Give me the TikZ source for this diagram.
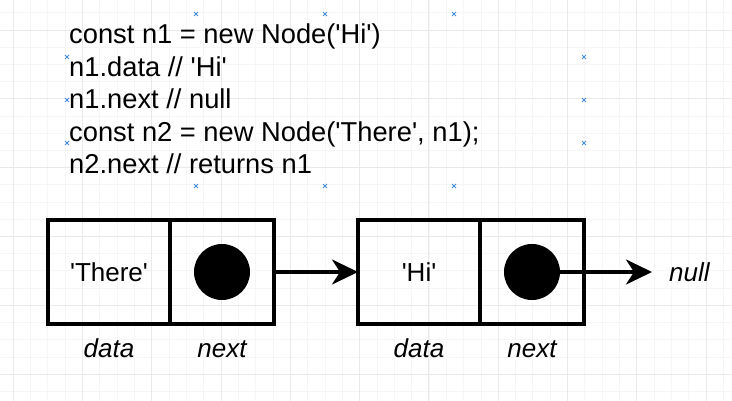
\documentclass[tikz,border=0pt]{standalone}
\usepackage{fontspec}
\newfontfamily\hv{Liberation Sans}
\usetikzlibrary{positioning,arrows.meta}

\definecolor{gridmajor}{RGB}{233,233,233}
\definecolor{gridminor}{RGB}{246,246,246}
\definecolor{handleblue}{RGB}{70,140,215}

\tikzset{
  cell/.style={draw, line width=3.2, minimum height=104pt, outer sep=0pt, inner sep=0pt,
    font=\hv\fontsize{26}{30}\selectfont},
  datacell/.style={cell, minimum width=122pt},
  nextcell/.style={cell, minimum width=104pt},
  dot/.style={circle, fill=black, minimum size=56pt, inner sep=0pt},
  lbl/.style={inner sep=0pt, font=\hv\itshape\fontsize{26}{30}\selectfont},
  codeline/.style={anchor=base west, inner sep=0pt, font=\hv\fontsize{27.3}{32}\selectfont},
  ptr/.style={line width=3.5, -{Stealth[length=26pt,width=25pt,inset=8pt]}},
  handle/.style={handleblue, line width=0.8},
}

\begin{document}
\begin{tikzpicture}[x=1pt,y=-1pt]
\useasboundingbox[fill=white] (0,0) rectangle (732,401);
\foreach \gx in {0,...,43}
  \draw[gridminor, line width=0.6] ({-4.3+17.325*\gx},0) -- ++(0,401);
\foreach \gy in {0,...,24}
  \draw[gridminor, line width=0.6] (0,{-4.4+17.2*\gy}) -- ++(732,0);
\foreach \gx in {0,...,10}
  \draw[gridmajor, line width=0.8] ({13+69.3*\gx},0) -- ++(0,401);
\foreach \gy in {0,...,5}
  \draw[gridmajor, line width=0.8] (0,{30+68.8*\gy}) -- ++(732,0);

\foreach \hx in {196,325,454}{
  \draw[handle] (\hx,14) +(-2,-2) -- +(2,2) +(-2,2) -- +(2,-2);
  \draw[handle] (\hx,186) +(-2,-2) -- +(2,2) +(-2,2) -- +(2,-2);
}
\foreach \hy in {57,100,143}{
  \draw[handle] (67,\hy) +(-2,-2) -- +(2,2) +(-2,2) -- +(2,-2);
  \draw[handle] (584,\hy) +(-2,-2) -- +(2,2) +(-2,2) -- +(2,-2);
}

\foreach \t [count=\i] in {{const n1 = new Node('Hi')},{n1.data // 'Hi'},{n1.next // null},
    {const n2 = new Node('There', n1);},{n2.next // returns n1}}
  \node[codeline] (code\i) at (69,{44+32.4*(\i-1)}) {\t};

\node[datacell] (data1) at (109,272) {'There'};
\node[nextcell, right=0pt of data1] (next1) {};
\node[dot] (dot1) at (next1.center) {};
\node[datacell] (data2) at (419,272) {'Hi'};
\node[nextcell, right=0pt of data2] (next2) {};
\node[dot] (dot2) at (next2.center) {};

\node[lbl, anchor=base] (lab1) at ([yshift=-33pt]data1.south) {data};
\node[lbl, anchor=base] (lab2) at ([yshift=-33pt]next1.south) {next};
\node[lbl, anchor=base] (lab3) at ([yshift=-33pt]data2.south) {data};
\node[lbl, anchor=base] (lab4) at ([yshift=-33pt]next2.south) {next};
\node[lbl, anchor=base west] (nil) at (669,282) {null};

\draw[ptr] (next1.east) -- (data2.west);
\draw[ptr, shorten >=17pt] (dot2.center) -- (dot2.center -| nil.west);
\end{tikzpicture}
\end{document}
